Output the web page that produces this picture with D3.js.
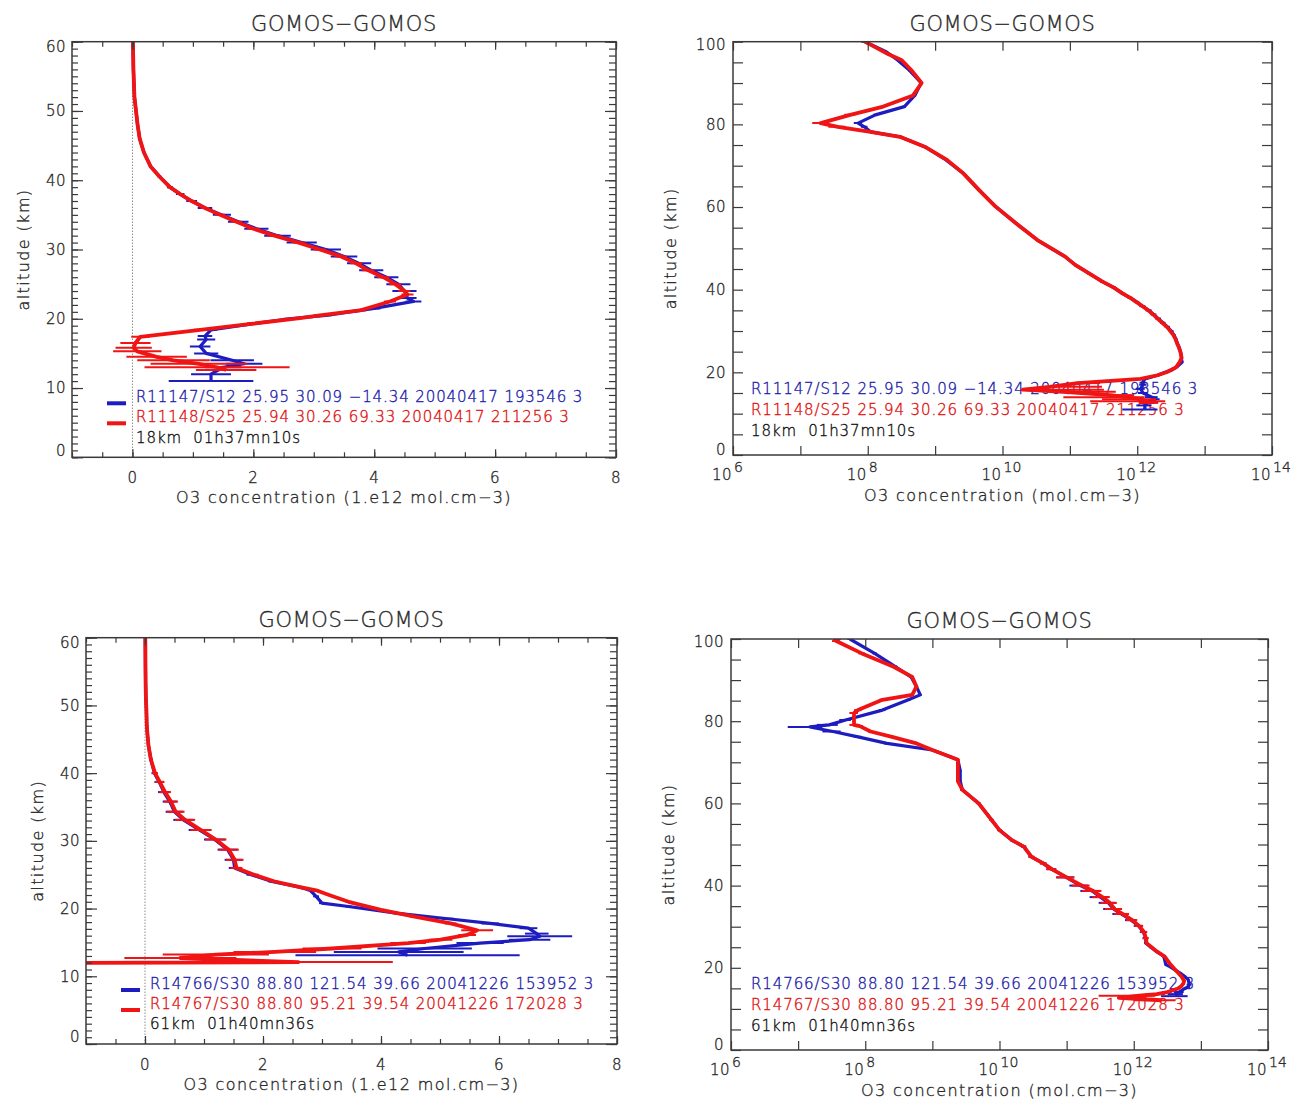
<!DOCTYPE html>
<html>
<head>
<meta charset="utf-8">
<title>GOMOS-GOMOS</title>
<script src="https://d3js.org/d3.v7.min.js"></script>
<style>
  body { margin: 0; background: #fff; }
  svg text { font-family: "DejaVu Sans", sans-serif; font-weight: 200; fill: #2a2a2a;
             stroke: #2a2a2a; stroke-width: 0.35px; white-space: pre; }
  .ax line { stroke: #3a3a3a; stroke-width: 1.2; }
  .frame { fill: none; stroke: #3a3a3a; stroke-width: 1.5; }
  .zero { stroke: #555; stroke-width: 1; stroke-dasharray: 1,2; }
  .prof { fill: none; stroke-linejoin: round; }
  .tl { font-size: 15px; letter-spacing: 0.5px; }
  .title { font-size: 21px; letter-spacing: 0.6px; }
  .atitle { font-size: 16px; letter-spacing: 1.4px; }
  .leg { font-size: 15px; letter-spacing: 0.9px; }
</style>
</head>
<body>
<script>
// ---- data: altitude (km), O3 (1e12 mol/cm3), error (same unit) ----

// pair 1, R11147 (blue)
var alt1a = [100, 97.5, 95.5, 93, 90, 87, 84.3, 82.3, 80.3, 79.4,
  78.2, 77, 74.6, 71.4, 68.2, 64.1, 60.1, 56, 52, 48,
  46, 44, 42, 40.5, 39, 38, 37, 36, 35, 34,
  33, 32, 31, 30, 29, 28, 27, 26, 25, 24,
  23, 22.5, 21.5, 21, 20.5, 20, 19.3, 18.4, 17.5, 17,
  16, 15, 14, 13.5, 13, 12, 11];
var o3_1a = [0.000091, 0.00019, 0.00028, 0.00042, 0.00062, 0.0005, 0.00035, 0.00013, 0.000072, 0.000089,
  0.00011, 0.0003, 0.0007, 0.00145, 0.0026, 0.0045, 0.0079, 0.016, 0.033, 0.085,
  0.12, 0.19, 0.3, 0.45, 0.62, 0.79, 0.98, 1.2, 1.48, 1.75,
  2.05, 2.4, 2.8, 3.2, 3.5, 3.75, 3.95, 4.2, 4.4, 4.5,
  4.55, 4.65, 4.0, 3.6, 3.2, 2.6, 2.0, 1.3, 1.2, 1.22,
  1.12, 1.22, 1.65, 1.85, 1.5, 1.3, 1.3];
var err1a = [0.00001, 0.00001, 0.00001, 0.00002, 0.00002, 0.00002, 0.00002, 0.00001, 0.00001, 0.00001,
  0.00001, 0.00002, 0.00003, 0.00005, 0.0001, 0.0002, 0.0003, 0.0005, 0.001, 0.003,
  0.005, 0.01, 0.02, 0.03, 0.05, 0.07, 0.09, 0.12, 0.15, 0.17,
  0.2, 0.22, 0.25, 0.25, 0.22, 0.2, 0.2, 0.2, 0.2, 0.2,
  0.15, 0.13, 0.1, 0.1, 0.1, 0.1, 0.1, 0.1, 0.12, 0.15,
  0.17, 0.2, 0.36, 0.3, 0.3, 0.33, 0.7];

// pair 1, R11148 (red)
var alt1b = [100, 97, 95.5, 93, 90, 87, 84.3, 82.3, 80.3, 79.4,
  78.2, 77, 74.6, 71.4, 68.2, 64.1, 60.1, 56, 52, 48,
  46, 44, 42, 40.5, 39, 38, 37, 36, 35, 34,
  33, 32, 31, 30, 29, 28, 27, 26, 25, 24,
  23.5, 22.5, 21.2, 20.5, 20.1, 19.3, 18.4, 17.4, 16.5, 15.8,
  15.3, 14.5, 14, 13.5, 13, 12.6];
var o3_1b = [0.000091, 0.0002, 0.00032, 0.00045, 0.00063, 0.00047, 0.00017, 0.000055, 0.00002, 0.000036,
  0.00011, 0.0003, 0.0007, 0.0015, 0.0026, 0.0045, 0.0079, 0.016, 0.033, 0.085,
  0.12, 0.19, 0.3, 0.45, 0.62, 0.79, 0.98, 1.2, 1.45, 1.72,
  2.0, 2.35, 2.75, 3.1, 3.45, 3.7, 3.9, 4.15, 4.35, 4.5,
  4.55, 4.26, 3.76, 3.1, 2.77, 2.0, 1.12, 0.13, 0.05, 0.02,
  0.08, 0.4, 0.68, 1.1, 1.4, 1.55];
var err1b = [0.00001, 0.00001, 0.00001, 0.00002, 0.00002, 0.00002, 0.00001, 0.00001, 0.000005, 0.00001,
  0.00001, 0.00002, 0.00003, 0.00005, 0.0001, 0.0002, 0.0003, 0.0005, 0.001, 0.003,
  0.005, 0.01, 0.02, 0.03, 0.04, 0.05, 0.06, 0.07, 0.08, 0.09,
  0.1, 0.1, 0.1, 0.1, 0.1, 0.1, 0.1, 0.1, 0.1, 0.1,
  0.1, 0.1, 0.1, 0.1, 0.1, 0.1, 0.1, 0.15, 0.25, 0.3,
  0.4, 0.5, 0.6, 0.8, 1.2, 0.5];

// pair 2, R14766 (blue)
var alt2a = [100, 96.5, 93.3, 90.8, 88.4, 86.4, 85.2, 82.7, 80.3, 79.1,
  78.6, 77.5, 76.2, 74.6, 73, 71.4, 70.6, 68, 65.4, 63.3,
  60, 56, 53.5, 51, 49.5, 47, 45.4, 44, 42, 40,
  38.7, 37.2, 35.8, 34.3, 33.1, 31.6, 30.2, 28.7, 27.2, 26,
  25, 24, 23.2, 22.7, 21.8, 20.8, 20.3, 19.3, 18.5, 17.8,
  17.1, 16.3, 15.9, 15.4, 14.9, 14.1, 13.6, 13.1];
var o3_2a = [0.000059, 0.000138, 0.00028, 0.00048, 0.00058, 0.00066, 0.00044, 0.00018, 0.000051, 0.000029,
  0.000015, 0.000033, 0.000078, 0.00021, 0.001, 0.0018, 0.0024, 0.0026, 0.0026, 0.0028,
  0.0049, 0.0076, 0.01, 0.0155, 0.023, 0.03, 0.045, 0.06, 0.1, 0.16,
  0.24, 0.32, 0.42, 0.5, 0.65, 0.92, 1.18, 1.4, 1.5, 1.52,
  1.8, 2.15, 2.6, 2.8, 2.9, 3.0, 3.45, 4.29, 5.13, 5.85,
  6.5, 6.64, 6.69, 6.52, 5.68, 4.74, 4.3, 4.45];
var err2a = [0.000005, 0.00001, 0.00002, 0.00003, 0.00003, 0.00003, 0.00003, 0.00002, 0.00001, 0.00001,
  0.000008, 0.00001, 0.00001, 0.00002, 0.00005, 0.0001, 0.0001, 0.0001, 0.0001, 0.0002,
  0.0003, 0.0005, 0.0008, 0.001, 0.002, 0.003, 0.005, 0.01, 0.03, 0.05,
  0.08, 0.1, 0.12, 0.15, 0.17, 0.18, 0.18, 0.17, 0.15, 0.1,
  0.08, 0.06, 0.05, 0.05, 0.05, 0.05, 0.05, 0.08, 0.1, 0.15,
  0.15, 0.2, 0.55, 0.35, 0.4, 0.8, 1.1, 1.9];

// pair 2, R14767 (red)
var alt2b = [100, 99.5, 96.5, 93.3, 90.8, 88.4, 86.4, 85.2, 82.7, 82,
  79.1, 78.8, 77.5, 76.2, 74.6, 73, 71.4, 70.6, 68, 65.4,
  63.3, 60, 56, 53.5, 51, 49.5, 47, 45.4, 44, 42,
  40, 38.7, 37.2, 35.8, 34.3, 33.1, 31.6, 30.2, 28.7, 27.2,
  26, 25, 24, 23.2, 22.7, 22, 21, 19.8, 18.8, 17.8,
  16.8, 16.1, 15.4, 14.9, 14.1, 13.6, 13.2, 12.7, 12.1, 11.9];
var o3_2b = [0.000038, 0.000037, 0.000089, 0.00026, 0.0005, 0.00058, 0.0005, 0.00018, 0.000078, 0.000068,
  0.000068, 0.000083, 0.00012, 0.00025, 0.00058, 0.001, 0.0018, 0.0024, 0.0024, 0.0024,
  0.0028, 0.0049, 0.0076, 0.01, 0.0155, 0.023, 0.03, 0.045, 0.06, 0.1,
  0.17, 0.25, 0.34, 0.44, 0.52, 0.68, 0.95, 1.2, 1.42, 1.52,
  1.55, 1.85, 2.2, 2.61, 2.9, 3.12, 3.45, 4.0, 4.57, 5.18,
  5.63, 5.46, 5.01, 4.46, 3.17, 2.2, 1.2, 0.6, 2.6, -3.0];
var err2b = [0.000005, 0.000005, 0.00001, 0.00002, 0.00003, 0.00003, 0.00003, 0.00002, 0.00001, 0.00001,
  0.00001, 0.00001, 0.00001, 0.00002, 0.00003, 0.00005, 0.0001, 0.0001, 0.0001, 0.0001,
  0.0002, 0.0003, 0.0005, 0.0008, 0.001, 0.002, 0.003, 0.005, 0.01, 0.03,
  0.05, 0.08, 0.1, 0.12, 0.15, 0.17, 0.18, 0.18, 0.17, 0.15,
  0.1, 0.08, 0.06, 0.05, 0.05, 0.05, 0.05, 0.05, 0.08, 0.1,
  0.27, 0.15, 0.2, 0.3, 0.5, 0.7, 0.9, 0.95, 1.6, 0];

var legend1 = ["R11147/S12 25.95 30.09 \u221214.34 20040417 193546 3",
               "R11148/S25 25.94 30.26 69.33 20040417 211256 3",
               "18km  01h37mn10s"];
var legend2 = ["R14766/S30 88.80 121.54 39.66 20041226 153952 3",
               "R14767/S30 88.80 95.21 39.54 20041226 172028 3",
               "61km  01h40mn36s"];

var linXLabels = [0, 2, 4, 6, 8];
var linYLabels = [0, 10, 20, 30, 40, 50, 60];
var logXLabels = [1e6, 1e8, 1e10, 1e12, 1e14];
var logXMinor = [1e7, 1e9, 1e11, 1e13];
var logYLabels = [0, 20, 40, 60, 80, 100];

var plotTitle = "GOMOS\u2212GOMOS";
var yTitle = "altitude (km)";
var xTitleLin = "O3 concentration (1.e12 mol.cm\u22123)";
var xTitleLog = "O3 concentration (mol.cm\u22123)";

var blue = "#1c1cc0", red = "#f01414";
var textColors = ["#2020a8", "#e01010", "#111"];

function rows(alt, val, err) {
  return alt.map(function(a, i) { return {a: a, v: val[i], e: err[i]}; });
}

var pairs = [
  {series: [rows(alt1a, o3_1a, err1a), rows(alt1b, o3_1b, err1b)], legend: legend1},
  {series: [rows(alt2a, o3_2a, err2a), rows(alt2b, o3_2b, err2b)], legend: legend2}
];

var panels = [
  {x: 72,  y: 41.7,  w: 544, h: 415.6, log: false, pair: 0, legX: 64},
  {x: 733, y: 41.7,  w: 539, h: 413.3, log: true,  pair: 0, legX: 18},
  {x: 86,  y: 637.7, w: 531, h: 406.3, log: false, pair: 1, legX: 64},
  {x: 731, y: 639,   w: 537, h: 411,   log: true,  pair: 1, legX: 20}
];

var svg = d3.select("body").append("svg")
    .attr("width", 1304)
    .attr("height", 1100);

function ticks(g, axis, vals, len, tx) {
  g.append("g").attr("class", "ax").attr("transform", tx)
    .call(axis.tickValues(vals).tickSize(-len).tickSizeOuter(0).tickFormat(""))
    .call(function(s) { s.select(".domain").remove(); s.selectAll("text").remove(); });
}

panels.forEach(function(p, pi) {
  var pair = pairs[p.pair];
  var unit = p.log ? 1e12 : 1;
  var g = svg.append("g").attr("transform", "translate(" + p.x + "," + p.y + ")");

  var x = p.log ? d3.scaleLog().domain([1e6, 1e14]) : d3.scaleLinear().domain([-1, 8]);
  x.range([0, p.w]);
  var y = d3.scaleLinear().domain(p.log ? [0, 100] : [0, 60]).range([p.h, 0]);

  g.append("clipPath").attr("id", "clip" + pi)
    .append("rect").attr("width", p.w).attr("height", p.h);

  // legend (drawn under the profiles)
  var base = p.log ? [-61, -40, -19] : [-55, -35, -14.5];
  pair.legend.forEach(function(t, k) {
    g.append("text").attr("class", "leg")
      .attr("x", p.legX).attr("y", p.h + base[k])
      .style("fill", textColors[k]).style("stroke", textColors[k]).text(t);
    if (!p.log && k < 2) {
      g.append("line")
        .attr("x1", p.legX - 29).attr("x2", p.legX - 10)
        .attr("y1", p.h + base[k] + 1).attr("y2", p.h + base[k] + 1)
        .attr("stroke", k === 0 ? blue : red).attr("stroke-width", 4);
    }
  });

  var plot = g.append("g").attr("clip-path", "url(#clip" + pi + ")");

  if (!p.log) {
    plot.append("line").attr("class", "zero")
      .attr("x1", x(0)).attr("x2", x(0)).attr("y1", 0).attr("y2", p.h);
  }

  var line = d3.line()
    .defined(function(d) { return !p.log || d.v > 0; })
    .x(function(d) { return x(d.v * unit); })
    .y(function(d) { return y(d.a); });

  pair.series.forEach(function(data, k) {
    var col = k === 0 ? blue : red;
    plot.append("path").attr("class", "prof")
      .attr("stroke", col).attr("stroke-width", k === 0 ? 3.2 : 3.8)
      .attr("d", line(data));
    plot.append("g").selectAll("line")
      .data(data.filter(function(d) { return d.e > 0 && (!p.log || d.v > 0); }))
      .join("line")
        .attr("x1", function(d) {
          var lo = d.v - d.e;
          return x((p.log && lo <= 0 ? d.v : lo) * unit);
        })
        .attr("x2", function(d) { return x((d.v + d.e) * unit); })
        .attr("y1", function(d) { return y(d.a); })
        .attr("y2", function(d) { return y(d.a); })
        .attr("stroke", col).attr("stroke-width", 2);
  });

  // frame and ticks (inward, mirrored on all four sides)
  g.append("rect").attr("class", "frame").attr("width", p.w).attr("height", p.h);
  var bottomT = "translate(0," + p.h + ")", rightT = "translate(" + p.w + ",0)";
  if (p.log) {
    [logXMinor, logXLabels].forEach(function(v) {
      ticks(g, d3.axisBottom(x), v, 9, bottomT);
      ticks(g, d3.axisTop(x), v, 9, "translate(0,0)");
    });
    var yv = d3.range(0, 101, 5);
    ticks(g, d3.axisLeft(y), yv, 10, "translate(0,0)");
    ticks(g, d3.axisRight(y), yv, 10, rightT);
  } else {
    var xm = d3.range(-1, 8.01, 0.5);
    ticks(g, d3.axisBottom(x), xm, 5, bottomT);
    ticks(g, d3.axisTop(x), xm, 5, "translate(0,0)");
    ticks(g, d3.axisBottom(x), linXLabels, 8, bottomT);
    ticks(g, d3.axisTop(x), linXLabels, 8, "translate(0,0)");
    var ym = d3.range(0, 61, 1);
    ticks(g, d3.axisLeft(y), ym, 6, "translate(0,0)");
    ticks(g, d3.axisRight(y), ym, 7, rightT);
    ticks(g, d3.axisLeft(y), linYLabels, 11, "translate(0,0)");
    ticks(g, d3.axisRight(y), linYLabels, 11, rightT);
  }

  // tick labels
  if (p.log) {
    g.selectAll(".xl").data(logXLabels).join("text").attr("class", "tl xl")
      .attr("x", function(d) { return x(d) - 1; }).attr("y", p.h + 25)
      .attr("text-anchor", "end").text("10");
    g.selectAll(".xe").data(logXLabels).join("text").attr("class", "xe")
      .attr("x", function(d) { return x(d) + 1; }).attr("y", p.h + 17)
      .style("font-size", "14px")
      .text(function(d) { return Math.round(Math.log10(d)); });
  } else {
    g.selectAll(".xl").data(linXLabels).join("text").attr("class", "tl xl")
      .attr("x", function(d) { return x(d); }).attr("y", p.h + 26)
      .attr("text-anchor", "middle").text(function(d) { return d; });
  }
  var lo = p.log ? 3 : 5, hi = p.log ? 5 : 7;
  g.selectAll(".yl").data(p.log ? logYLabels : linYLabels).join("text").attr("class", "tl yl")
    .attr("x", p.log ? -7 : -6)
    .attr("y", function(d) { return Math.min(Math.max(y(d), lo), p.h - hi); })
    .attr("dy", "0.36em").attr("text-anchor", "end")
    .text(function(d) { return d; });

  // titles
  g.append("text").attr("class", "title")
    .attr("x", p.w / 2).attr("y", -11).attr("text-anchor", "middle").text(plotTitle);
  g.append("text").attr("class", "atitle")
    .attr("x", p.w / 2).attr("y", p.h + 46).attr("text-anchor", "middle")
    .text(p.log ? xTitleLog : xTitleLin);
  g.append("text").attr("class", "atitle")
    .attr("transform", "translate(" + (p.log ? -63 : -49) + "," + (p.h / 2) + ") rotate(-90)")
    .attr("dy", "0.35em").attr("text-anchor", "middle").text(yTitle);
});
</script>
</body>
</html>
